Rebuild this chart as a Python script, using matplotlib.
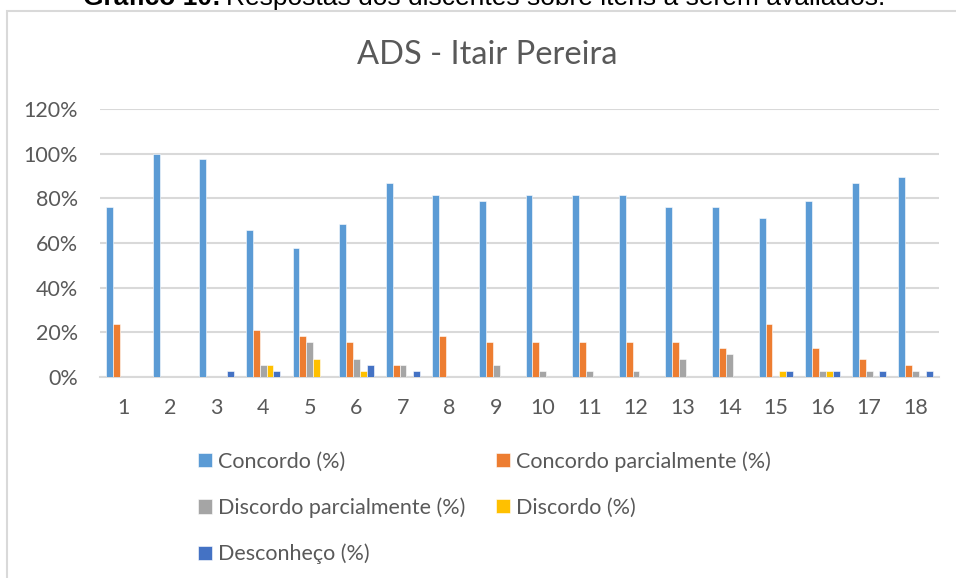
import matplotlib
matplotlib.use("Agg")
import matplotlib.pyplot as plt
import numpy as np
from matplotlib.patches import Rectangle

plt.rcParams['font.family'] = ['Lato', 'DejaVu Sans']

items = [str(i) for i in range(1, 19)]
concordo = [76.3, 100.0, 97.4, 65.8, 57.9, 68.4, 86.8, 81.6, 78.9, 81.6, 81.6, 81.6, 76.3, 76.3, 71.1, 78.9, 86.8, 89.5]
concordo_parc = [23.7, 0, 0, 21.1, 18.4, 15.8, 5.3, 18.4, 15.8, 15.8, 15.8, 15.8, 15.8, 13.2, 23.7, 13.2, 7.9, 5.3]
discordo_parc = [0, 0, 0, 5.3, 15.8, 7.9, 5.3, 0, 5.3, 2.6, 2.6, 2.6, 7.9, 10.5, 0, 2.6, 2.6, 2.6]
discordo = [0, 0, 0, 5.3, 7.9, 2.6, 0, 0, 0, 0, 0, 0, 0, 0, 2.6, 2.6, 0, 0]
desconheco = [0, 0, 2.6, 2.6, 0, 5.3, 2.6, 0, 0, 0, 0, 0, 0, 0, 2.6, 2.6, 2.6, 2.6]

series = [
    ("Concordo (%)", concordo, "#5B9BD5"),
    ("Concordo parcialmente (%)", concordo_parc, "#ED7D31"),
    ("Discordo parcialmente (%)", discordo_parc, "#A5A5A5"),
    ("Discordo (%)", discordo, "#FFC000"),
    ("Desconheço (%)", desconheco, "#4472C4"),
]

W, H = 956, 578
fig = plt.figure(figsize=(W / 100, H / 100), dpi=100)

# outer chart border
fig.patches.append(Rectangle((7 / W, -0.1), 1.1, 1 - 11 / H + 0.1, transform=fig.transFigure,
                             fill=False, edgecolor="#D9D9D9", linewidth=1.5))

# caption (partly cut off at the top, as in the source)
t1 = fig.text(83 / W, 1 - 5 / H, "Gráfico 10:", fontsize=19, fontweight="bold",
              family="Liberation Sans", va="baseline", ha="left", color="black")
fig.canvas.draw()
bb = t1.get_window_extent(fig.canvas.get_renderer())
fig.text((bb.x1 + 5) / W, 1 - 5 / H, "Respostas dos discentes sobre itens a serem avaliados.",
         fontsize=19, family="Liberation Sans", va="baseline", ha="left", color="black")

ax = fig.add_axes([100 / W, 1 - 377 / H, (939 - 100) / W, (377 - 109) / H])
x = np.arange(len(items))
w = 0.148
handles = []
for i, (name, vals, col) in enumerate(series):
    b = ax.bar(x + (i - 2) * w, np.array(vals) / 100, width=w, color=col,
               edgecolor="white", linewidth=0.4, label=name, zorder=3)
    handles.append(b)

ax.set_xlim(-0.5, len(items) - 0.5)
ax.set_ylim(0, 1.2)
ax.set_yticks(np.arange(0, 1.21, 0.2))
ax.set_yticklabels([f"{int(round(v * 100))}%" for v in np.arange(0, 1.21, 0.2)])
ax.set_xticks(x)
ax.set_xticklabels(items)
ax.tick_params(axis="both", length=0, labelsize=15.5, colors="#595959")
ax.tick_params(axis="y", pad=16)
ax.tick_params(axis="x", pad=15)
ax.grid(axis="y", color="#D9D9D9", linewidth=1.5, zorder=0)
for s in ["top", "right", "left"]:
    ax.spines[s].set_visible(False)
ax.spines["bottom"].set_color("#D9D9D9")
ax.spines["bottom"].set_linewidth(1.5)

fig.text(487 / W, 1 - 55 / H, "ADS - Itair Pereira", fontsize=23.5, color="#595959",
         ha="center", va="center")

order = [0, 2, 4, 1, 3]
fig.legend([handles[k] for k in order], [series[k][0] for k in order], ncol=2,
           loc="upper left", bbox_to_anchor=(198 / W, 1 - 451 / H),
           frameon=False, fontsize=15.5, labelcolor="#595959",
           borderpad=0, borderaxespad=0,
           handlelength=0.65, handleheight=0.65, handletextpad=0.3,
           labelspacing=1.2, columnspacing=1.4)

fig.savefig("out.png", dpi=100)
